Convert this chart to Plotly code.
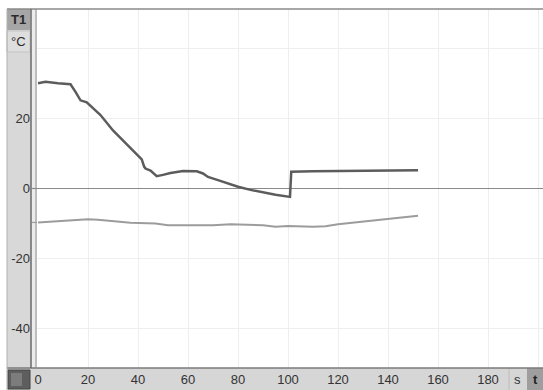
import plotly.graph_objects as go

# ---- data ----
t_dark = [0, 3, 8, 13, 15, 17, 19.5, 21, 25, 30, 37, 41.5, 42.5, 43, 45, 47.5, 50, 53, 58, 63.5,
          66, 68, 72, 76, 80, 85, 90, 95, 100.8, 101.3, 110, 120, 130, 140, 145, 152]
y_dark = [30.1, 30.5, 30.1, 29.8, 27.6, 25.2, 24.6, 23.6, 21.0, 16.6, 11.7, 8.3, 6.2, 5.7, 5.1, 3.5,
          3.9, 4.4, 5.0, 4.9, 4.3, 3.3, 2.4, 1.5, 0.5, -0.4, -1.2, -1.8, -2.4, 4.8, 4.9, 5.0, 5.1, 5.1, 5.2, 5.2]

t_light = [0, 10, 20, 24, 29, 37, 47, 50, 52, 60, 70, 77, 85, 90, 95, 100, 110, 115, 120, 130, 140, 152]
y_light = [-9.7, -9.2, -8.8, -8.9, -9.2, -9.8, -10.0, -10.3, -10.5, -10.5, -10.5, -10.2, -10.4, -10.5,
           -10.9, -10.7, -10.9, -10.8, -10.2, -9.5, -8.8, -7.8]

x_ticks = [0, 20, 40, 60, 80, 100, 120, 140, 160, 180]
y_ticks = [-40, -20, 0, 20]

# ---- geometry helpers (pixels -> paper) ----
W, H = 543, 390
L, R, T, B = 37, 543, 9, 368
def px(x):
    return (x - L) / (R - L)
def py(y):
    return (B - y) / (B - T)

fig = go.Figure()
fig.add_trace(go.Scatter(x=t_light, y=y_light, mode="lines",
                         line=dict(color="#9c9c9c", width=2), showlegend=False, hoverinfo="skip"))
fig.add_trace(go.Scatter(x=t_dark, y=y_dark, mode="lines",
                         line=dict(color="#5c5c5c", width=2.5), showlegend=False, hoverinfo="skip"))

shapes = []
def rect(x0, x1, y0, y1, fill, line=None, layer="below"):
    shapes.append(dict(type="rect", xref="paper", yref="paper", x0=px(x0), x1=px(x1), y0=py(y1), y1=py(y0),
                       fillcolor=fill, line=line or dict(width=0), layer=layer))
def hline(x0, x1, y, color, w):
    shapes.append(dict(type="line", xref="paper", yref="paper", x0=px(x0), x1=px(x1), y0=py(y), y1=py(y),
                       line=dict(color=color, width=w)))
def vline(x, y0, y1, color, w):
    shapes.append(dict(type="line", xref="paper", yref="paper", x0=px(x), x1=px(x), y0=py(y1), y1=py(y0),
                       line=dict(color=color, width=w)))

rect(7, 31, 9, 368, "#d8d8d8")          # left panel
rect(31, 37, 9, 368, "#ececec")         # gap
rect(7, 30, 9, 30, "#a6a6a6")           # T1 box
rect(7, 30, 31, 52, "#dedede", dict(color="#c4c4c4", width=1))  # degC box
rect(7, 543, 368, 390, "#d6d6d6")       # bottom strip
rect(8, 30, 370, 389, "#5e5e5e", dict(color="#444", width=1))   # icon
rect(11, 22, 373, 386, "#7c7c7c")
rect(527, 543, 368, 390, "#9e9e9e")     # t box
vline(509, 368, 390, "#bcbcbc", 1)
hline(7, 543, 9, "#8a8a8a", 1.5)
hline(7, 543, 368, "#7a7a7a", 1.5)
vline(31, 9, 368, "#6a6a6a", 1.5)
vline(36, 9, 368, "#8e8e8e", 1)
vline(7, 9, 390, "#b0b0b0", 1)
# start markers in the gap
shapes.append(dict(type="line", xref="paper", yref="y", x0=px(32), x1=px(37), y0=0, y1=0,
                   line=dict(color="#8a8a8a", width=1.2)))
shapes.append(dict(type="line", xref="paper", yref="y", x0=px(32), x1=px(37), y0=y_light[0], y1=y_light[0],
                   line=dict(color="#9c9c9c", width=1.2)))

def ann(text, x, y, color="#2a2a2a"):
    return dict(text=text, xref="paper", yref="paper", x=px(x), y=py(y), showarrow=False,
                xanchor="center", yanchor="middle",
                font=dict(family="Liberation Sans", size=13, color=color))

annotations = [
    ann("<b>T1</b>", 18.5, 19.5),
    ann("°C", 18.5, 41),
    ann("s", 517, 379.5, "#333"),
    ann("<b>t</b>", 535, 379.5, "#222"),
]

fig.update_layout(
    width=W, height=H,
    margin=dict(l=L, r=W - R, t=T, b=H - B),
    paper_bgcolor="white", plot_bgcolor="white",
    shapes=shapes, annotations=annotations,
    font=dict(family="Liberation Sans", size=13, color="#333"),
    hovermode=False,
)
fig.update_xaxes(range=[-0.4, 202], tickvals=x_ticks + [200], ticktext=[str(v) for v in x_ticks] + [""],
                 showgrid=True, gridcolor="#eeeeee", gridwidth=1, zeroline=False,
                 showline=False, ticks="", ticklabelstandoff=2,
                 tickfont=dict(size=13, color="#333"))
fig.update_yaxes(range=[-51.3, 51.3], tickvals=[-40, -20, 0, 20, 40],
                 ticktext=[str(v) for v in y_ticks] + [""],
                 showgrid=True, gridcolor="#eeeeee", gridwidth=1,
                 zeroline=True, zerolinecolor="#8a8a8a", zerolinewidth=1.3,
                 showline=False, ticks="", ticklabelstandoff=6,
                 tickfont=dict(size=13, color="#333"))

fig.write_html("out.html", config={"displayModeBar": False},
               post_script="document.body.style.margin='0';")
